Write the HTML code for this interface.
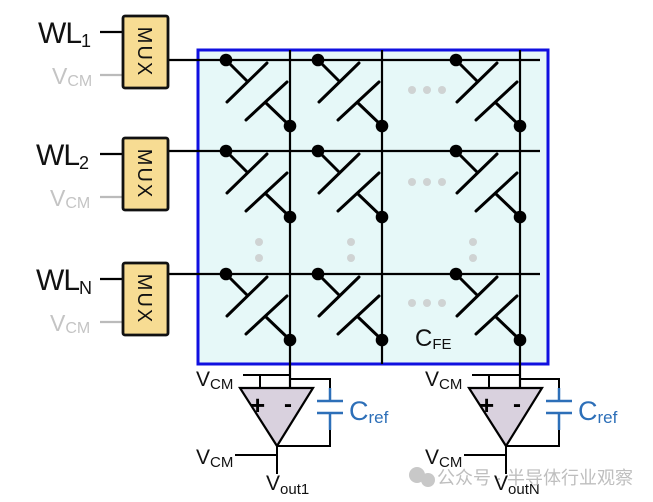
<!DOCTYPE html>
<html><head><meta charset="utf-8"><style>
html,body{margin:0;padding:0;background:#fff;width:653px;height:502px;overflow:hidden}
svg{display:block;font-family:"Liberation Sans","Noto Sans CJK SC",sans-serif}
</style></head><body>
<svg width="653" height="502" viewBox="0 0 653 502" xmlns="http://www.w3.org/2000/svg">
<defs>
<g id="cell" stroke="#000" stroke-width="3" fill="none" stroke-linecap="round">
  <line x1="-64" y1="0" x2="-43" y2="21"/>
  <line x1="-63" y1="42" x2="-23" y2="3"/>
  <line x1="-44" y1="60" x2="-3" y2="22"/>
  <line x1="-24" y1="43" x2="0" y2="66"/>
  <circle cx="-64" cy="0" r="6.3" fill="#000" stroke="none"/>
  <circle cx="0" cy="66" r="6.3" fill="#000" stroke="none"/>
</g>
<g id="mux">
  <rect x="0" y="0" width="45" height="72" rx="2" fill="#f7dc93" stroke="#111" stroke-width="2.8"/>
  <text transform="translate(15,36) rotate(90)" font-size="20" letter-spacing="2" text-anchor="middle" fill="#111">MUX</text>
</g>
</defs>

<rect x="198" y="50" width="350" height="314" fill="#e6f8f8" stroke="#1010e0" stroke-width="3"/>

<g stroke="#000" stroke-width="2.2">
<line x1="168" y1="60" x2="540" y2="60"/>
<line x1="168" y1="151" x2="540" y2="151"/>
<line x1="168" y1="274" x2="540" y2="274"/>
<line x1="290" y1="50" x2="290" y2="388"/>
<line x1="382" y1="50" x2="382" y2="364"/>
<line x1="520" y1="50" x2="520" y2="388"/>
</g>

<use href="#cell" x="290" y="60"/><use href="#cell" x="382" y="60"/><use href="#cell" x="520" y="60"/>
<use href="#cell" x="290" y="151"/><use href="#cell" x="382" y="151"/><use href="#cell" x="520" y="151"/>
<use href="#cell" x="290" y="274"/><use href="#cell" x="382" y="274"/><use href="#cell" x="520" y="274"/>

<g fill="#cfd3d3">
<circle cx="412" cy="90" r="4"/><circle cx="427" cy="90" r="4"/><circle cx="442" cy="90" r="4"/>
<circle cx="412" cy="182" r="4"/><circle cx="427" cy="182" r="4"/><circle cx="442" cy="182" r="4"/>
<circle cx="412" cy="303" r="4"/><circle cx="427" cy="303" r="4"/><circle cx="442" cy="303" r="4"/>
<circle cx="259" cy="242" r="4"/><circle cx="259" cy="258" r="4"/>
<circle cx="351" cy="242" r="4"/><circle cx="351" cy="258" r="4"/>
<circle cx="473" cy="242" r="4"/><circle cx="473" cy="258" r="4"/>
</g>
<text x="415" y="346" font-size="24" fill="#111">C<tspan font-size="15" dy="3">FE</tspan></text>

<g stroke-width="2.2">
<line x1="100" y1="32" x2="123" y2="32" stroke="#000"/>
<line x1="100" y1="75" x2="123" y2="75" stroke="#bbb"/>
<line x1="100" y1="154" x2="123" y2="154" stroke="#000"/>
<line x1="100" y1="197" x2="123" y2="197" stroke="#bbb"/>
<line x1="100" y1="279" x2="123" y2="279" stroke="#000"/>
<line x1="100" y1="322" x2="123" y2="322" stroke="#bbb"/>
</g>
<use href="#mux" x="123" y="16"/>
<use href="#mux" x="123" y="138"/>
<use href="#mux" x="123" y="263"/>
<g font-size="30" fill="#111" letter-spacing="-1">
<text x="38" y="43">WL<tspan font-size="18" dy="4">1</tspan></text>
<text x="36" y="165">WL<tspan font-size="18" dy="4">2</tspan></text>
<text x="36" y="290">WL<tspan font-size="18" dy="4">N</tspan></text>
</g>
<g font-size="23" fill="#c4c4c4">
<text x="52" y="84">V<tspan font-size="16" dy="2">CM</tspan></text>
<text x="50" y="206">V<tspan font-size="16" dy="2">CM</tspan></text>
<text x="50" y="331">V<tspan font-size="16" dy="2">CM</tspan></text>
</g>

<g id="amp">
<g stroke="#000" stroke-width="2" fill="none">
<line x1="243" y1="375" x2="290" y2="375"/>
<line x1="260" y1="375" x2="260" y2="388"/>
<polyline points="290,379 330,379 330,390"/>
<polyline points="330,425 330,446 277,446"/>
<line x1="277" y1="446" x2="277" y2="474"/>
<line x1="235" y1="455" x2="277" y2="455"/>
</g>
<g stroke="#2d6fb8" stroke-width="2.5" fill="none">
<line x1="330" y1="388" x2="330" y2="401"/>
<line x1="317" y1="401" x2="343" y2="401"/>
<line x1="317" y1="413" x2="343" y2="413"/>
<line x1="330" y1="413" x2="330" y2="430"/>
</g>
<polygon points="240,388 313,388 277,446" fill="#d9d1de" stroke="#000" stroke-width="2.2"/>
<text x="250" y="414" font-size="26" font-weight="bold" fill="#000">+</text>
<text x="284" y="412" font-size="24" font-weight="bold" fill="#000">-</text>
<text x="349" y="420" font-size="27" fill="#2d6fb8">C<tspan font-size="17" dy="3">ref</tspan></text>
<text x="196" y="386" font-size="21" fill="#111">V<tspan font-size="15" dy="3">CM</tspan></text>
<text x="196" y="464" font-size="21" fill="#111">V<tspan font-size="15" dy="3">CM</tspan></text>
</g>
<text x="266" y="490" font-size="21" fill="#111">V<tspan font-size="15" dy="4">out1</tspan></text>
<use href="#amp" x="229" y="0"/>
<text x="494" y="490" font-size="21" fill="#111">V<tspan font-size="15" dy="4">outN</tspan></text>

<circle cx="417" cy="475" r="8" fill="#c8c8c8"/><circle cx="428" cy="480" r="7" fill="#c8c8c8"/>
<text x="437" y="484" font-size="18" fill="#b8b8b8" opacity="0.9">公众号 · 半导体行业观察</text>
</svg>
</body></html>
